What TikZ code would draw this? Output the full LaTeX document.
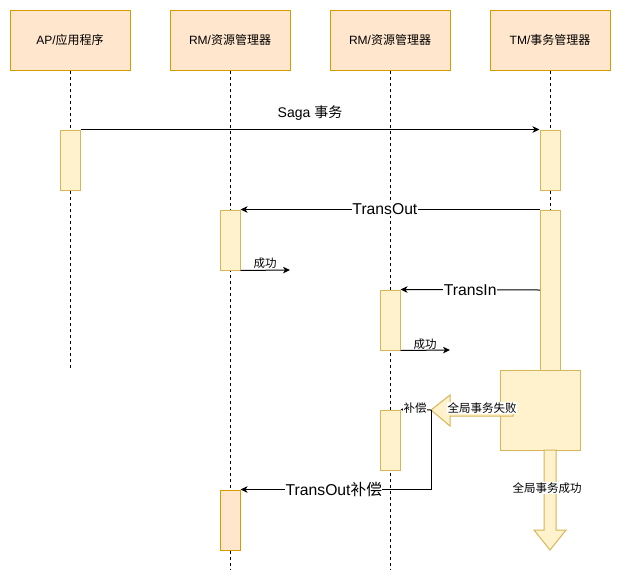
\documentclass[tikz,border=0pt]{standalone}
\usepackage{fontspec}
\setmainfont{Liberation Sans}
\newfontfamily\cjk{Noto Sans CJK SC}
\usetikzlibrary{arrows.meta}
\definecolor{hfill}{HTML}{FFE6CC}
\definecolor{hdraw}{HTML}{D79B00}
\definecolor{afill}{HTML}{FFF2CC}
\definecolor{adraw}{HTML}{D6B656}
\tikzset{
  header/.style={draw=hdraw, fill=hfill, line width=1pt, minimum width=120pt, minimum height=60pt, inner sep=0pt, font=\fontsize{12}{14}\selectfont},
  actbar/.style={draw=adraw, fill=afill, line width=1pt, minimum width=20pt, inner sep=0pt},
  actorange/.style={draw=hdraw, fill=hfill, line width=1pt, minimum width=20pt, inner sep=0pt},
  lifeline/.style={line width=0.8pt, dash pattern=on 3pt off 3pt},
  msg/.style={line width=1pt, -{Stealth[length=7pt,width=6.5pt,inset=2pt]}},
  biglbl/.style={fill=white, inner sep=0.5pt, font=\fontsize{15.7}{17}\selectfont},
  smalllbl/.style={inner sep=0.5pt, font=\fontsize{11.5}{13}\selectfont},
  flexarr/.style={draw=adraw, fill=afill, line width=1pt, line join=miter},
}
\begin{document}
\begin{tikzpicture}[x=1pt,y=-1pt]
\useasboundingbox (0,0) rectangle (621,582);
% headers
\node[header] (h1) at (70,40) {AP/{\cjk 应用程序}};
\node[header] (h2) at (230,40) {RM/{\cjk 资源管理器}};
\node[header] (h3) at (390,40) {RM/{\cjk 资源管理器}};
\node[header] (h4) at (550,40) {TM/{\cjk 事务管理器}};
% lifelines
\coordinate (e1) at (70,370);
\coordinate (e2) at (230,570);
\coordinate (e3) at (390,570);
\coordinate (e4) at (550,370);
\draw[lifeline] (h1.south) -- (e1);
\draw[lifeline] (h2.south) -- (e2);
\draw[lifeline] (h3.south) -- (e3);
\draw[lifeline] (h4.south) -- (e4);
% activation bars
\node[actbar, minimum height=60pt] (a1) at (70,160) {};
\node[actbar, minimum height=60pt] (t1) at (550,160) {};
\node[actbar, minimum height=60pt] (r1a) at (230,240) {};
\node[actbar, minimum height=160pt] (t2) at (550,290) {};
\node[actbar, minimum height=60pt] (r2a) at (390,320) {};
\node[actbar, minimum width=80pt, minimum height=80pt] (big) at (540,410) {};
\node[actbar, minimum height=60pt] (r2b) at (390,440) {};
\node[actorange, minimum height=60pt] (r1b) at (230,520) {};
% messages
\draw[msg] (a1.north east) -- (t1.north west);
\node[font=\fontsize{14}{16}\selectfont, inner sep=0pt] (lsaga) at (310,113) {Saga {\cjk 事务}};
\draw[msg] (t2.north west) -- node[biglbl, pos=0.517] (lto) {TransOut} (r1a.north east);
\coordinate (ok1) at (290,270);
\draw[msg] (r1a.south east) -- (ok1);
\node[smalllbl] (lok1) at (265,263) {\cjk 成功};
\coordinate (tin) at (540,290);
\draw[msg] (tin) -- node[biglbl] (lti) {TransIn} (r2a.north east);
\coordinate (ok2) at (450,350);
\draw[msg] (r2a.south east) -- (ok2);
\node[smalllbl] (lok2) at (425,344) {\cjk 成功};
% failure flex arrow
\draw[flexarr] (513,405) -- (450,405) -- (450,395) -- (431,410) -- (450,426) -- (450,416) -- (513,416) -- cycle;
\coordinate (failtip) at (431,410);
\node[smalllbl, fill=white] (lfail) at (482,408) {\cjk 全局事务失败};
% success flex arrow
\draw[flexarr] (544,450) -- (544,530) -- (534,530) -- (550,550) -- (566,530) -- (556,530) -- (556,450) -- cycle;
\node[smalllbl, fill=white] (lsucc) at (547,488) {\cjk 全局事务成功};
% compensation
\draw[msg] (failtip) -- (r2b.north east);
\node[smalllbl, fill=white] (lcomp) at (415,408) {\cjk 补偿};
\coordinate (cbend) at (failtip |- r1b.north);
\draw[msg] (failtip) -- (cbend) -- node[biglbl, pos=0.51] (ltoc) {TransOut{\cjk 补偿}} (r1b.north east);
\end{tikzpicture}
\end{document}
